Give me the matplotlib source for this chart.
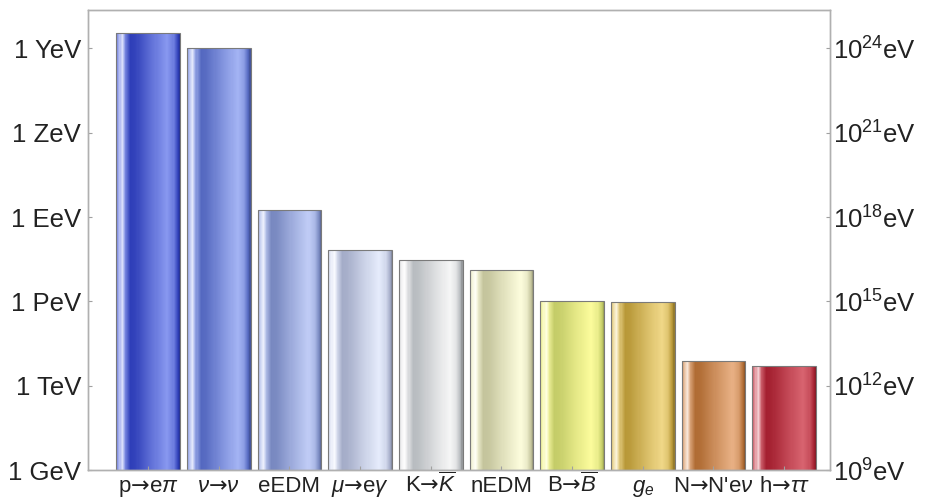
import numpy as np
import matplotlib
matplotlib.use('Agg')
import matplotlib.pyplot as plt
from matplotlib.colors import to_rgb

plt.rcParams['font.family'] = ['Liberation Sans', 'DejaVu Sans']
plt.rcParams['mathtext.fontset'] = 'custom'
plt.rcParams['mathtext.rm'] = 'Liberation Sans'
plt.rcParams['mathtext.it'] = 'Liberation Sans:italic'
plt.rcParams['mathtext.bf'] = 'Liberation Sans:bold'
plt.rcParams['mathtext.sf'] = 'DejaVu Sans'

F = r'$\mathsf{→}$'  # flecha

# datos (log10 de la escala en eV)
etiquetas = [r'p' + F + r'e$\mathit{\pi}$', r'$\mathit{\nu}$' + F + r'$\mathit{\nu}$', 'eEDM',
             r'$\mathit{\mu}$' + F + r'e$\mathit{\gamma}$', r'K' + F + r'$\overline{K}$', 'nEDM',
             r'B' + F + r'$\overline{B}$', r'$g_e$', r"N" + F + r"N'e$\mathit{\nu}$",
             r'h' + F + r'$\mathit{\tau\tau}$']
exponentes = [24.54, 24.0, 18.25, 16.82, 16.47, 16.11, 15.0, 14.97, 12.89, 12.69]
oscuros = ['#2e3eb8', '#5468c0', '#7888c0', '#a4acc8', '#b8bcc0',
           '#c4c49c', '#c4cc68', '#b89838', '#b06c34', '#a42030']
claros = ['#8898f0', '#a4b4f4', '#c0ccf6', '#e6ecfc', '#f6f6f6',
          '#fcfcdc', '#fcfc9c', '#f0d888', '#e8b084', '#d86470']

ticks_izq = ['1 GeV', '1 TeV', '1 PeV', '1 EeV', '1 ZeV', '1 YeV']
ticks_exp = [9, 12, 15, 18, 21, 24]

valores = 10.0**np.array(exponentes)
base = 1e9
ancho = 0.9
x = np.arange(1, len(valores)+1)

# perfil horizontal: u mezcla oscuro->claro, w mezcla con blanco (brillo)
t_p = [0.0, 0.04, 0.09, 0.14, 0.22, 0.30, 0.55, 0.80, 0.90, 0.97, 1.0]
u_p = [0.5, 0.8, 1.0, 0.6, 0.0, 0.05, 0.55, 1.0, 0.7, 0.0, -0.25]
w_p = [0.0, 0.3, 0.7, 0.1, 0.0, 0.0, 0.0, 0.0, 0.0, 0.0, 0.0]

def color_en(i, t):
    d = np.array(to_rgb(oscuros[i]))
    c = np.array(to_rgb(claros[i]))
    u = np.interp(t, t_p, u_p)
    w = np.interp(t, t_p, w_p)
    if u >= 0:
        col = d + u*(c-d)
    else:
        col = d*(1+u)
    col = col + w*(1-col)
    return np.clip(col, 0, 1)

fig = plt.figure(figsize=(9.3, 4.99), dpi=100)
ax = fig.add_axes([88/930, 29/499, (830-88)/930, (489-29)/499])

N = 60
for i in range(len(valores)):
    x0 = x[i] - ancho/2
    pasos = np.linspace(0, 1, N+1)
    centros = (pasos[:-1] + pasos[1:])/2
    for j in range(N):
        ax.bar(x0 + pasos[j]*ancho, valores[i]-base, width=ancho/N*1.05, bottom=base,
               align='edge', color=color_en(i, centros[j]), linewidth=0, antialiased=False)
    ax.bar(x[i], valores[i]-base, width=ancho, bottom=base, fill=False,
           edgecolor='#7a7a7a', linewidth=0.8)

ax.set_yscale('log')
ax.set_ylim(1e9, 10**25.37)
ax.set_xlim(0.15, 10.65)

ax.set_yticks([10.0**e for e in ticks_exp])
ax.set_yticklabels(ticks_izq, fontsize=18.5)
ax.yaxis.set_minor_locator(matplotlib.ticker.NullLocator())
ax.set_xticks(x)
ax.set_xticklabels(etiquetas, fontsize=16, va='baseline')
ax.tick_params(axis='y', direction='in', length=3, color='#a0a0a0', pad=5, labelcolor='#222222')
ax.tick_params(axis='x', direction='in', length=3, color='#a0a0a0', pad=16, labelcolor='#222222')

ax2 = ax.twinx()
ax2.set_yscale('log')
ax2.set_ylim(ax.get_ylim())
ax2.set_yticks([10.0**e for e in ticks_exp])
ax2.set_yticklabels([r'$\mathregular{10^{%d}}$eV' % e for e in ticks_exp], fontsize=18.5)
ax2.yaxis.set_minor_locator(matplotlib.ticker.NullLocator())
ax2.tick_params(axis='y', direction='in', length=3, color='#a0a0a0', pad=2, labelcolor='#222222')

for a in (ax, ax2):
    for sp in a.spines.values():
        sp.set_color('#b0b0b0')
        sp.set_linewidth(1.0)

plt.savefig('out.png', dpi=100)
plt.close()
